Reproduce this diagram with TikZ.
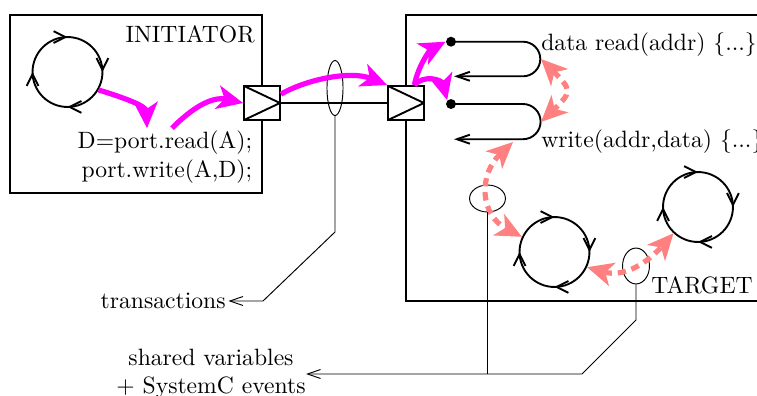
\documentclass[tikz,border=0pt]{standalone}
\usepackage{xcolor}
\usepackage{tikz}
\usetikzlibrary{arrows.meta, shapes.geometric, decorations.markings}

\definecolor{salmon}{RGB}{255,128,128}
\definecolor{fucsia}{RGB}{255,0,255}

\tikzset{
  bucle/.style={circle, draw, thick, minimum size=29.6pt, inner sep=0pt,
    postaction={decorate, decoration={markings,
      mark=between positions 0 and 0.8 step 0.25 with {\arrowreversed{Straight Barb[length=5pt,width=5pt]}}}}},
  puerto/.style={draw, thick, fill=white, minimum width=15.2pt, minimum height=14.4pt, inner sep=0pt,
    path picture={\draw[thick] (path picture bounding box.north west) -- (path picture bounding box.east) -- (path picture bounding box.south west);}},
  elipse/.style={ellipse, draw, inner sep=0pt},
  punto/.style={circle, fill, inner sep=0pt, minimum size=4.2pt},
  flechaM/.style={fucsia, line width=2.2pt, -{Stealth[length=11pt,width=10pt,inset=3pt]}},
  flechaS/.style={salmon, line width=2.2pt, dash pattern=on 3.5pt off 2.5pt,
    {Stealth[length=11pt,width=10pt,inset=3pt]}-{Stealth[length=11pt,width=10pt,inset=3pt]}},
  guia/.style={-{Straight Barb[length=5.5pt,width=3.8pt]}}
}

\begin{document}
\begin{tikzpicture}[x=0.4233pt, y=-0.4233pt]
\useasboundingbox (0,0) rectangle (757,396);

% Cajas INITIATOR y TARGET
\draw[thick] (10,15) rectangle (262,193);
\draw[thick] (406,15) rectangle (770,301);
\node (lblIni) at (263,34)[left] {INITIATOR};
\node (lblTgt) at (761,285)[left] {TARGET};

% Procesos
\node[bucle] (cicloI) at (67.5,72) {};
\node[bucle] (cicloA) at (554.5,252) {};
\node[bucle] (cicloB) at (698,207) {};

% Codigo del iniciador
\node[align=right, inner sep=1pt] (codigo) at (255,157)[left] {D=port.read(A);\\port.write(A,D);};

% Puertos y canal
\node[puerto] (p1) at (262,103) {};
\node[puerto] (p2) at (406,103) {};
\draw[thick] (p1.east) -- (p2.west);
\node[elipse, minimum width=6.8pt, minimum height=23.3pt] (e1) at (335,88) {};

% Metodos del target
\node[punto] (d1) at (451,41.7) {};
\node[punto] (d2) at (451,104) {};
\draw[thick, guia] (d1.center) -- (523,41.7) arc (-90:90:17.3) -- (454,76.3);
\draw[thick, guia] (d2.center) -- (523,104) arc (-90:90:17.6) -- (454,139.2);
\node (lblRead) at (533,45)[right] {data read(addr) \{...\}};
\node (lblWrite) at (533,142)[right] {write(addr,data) \{...\}};

% Variables compartidas
\node[elipse, minimum width=15.2pt, minimum height=11.4pt] (e2) at (487.5,198.5) {};
\node[elipse, minimum width=11.4pt, minimum height=15.2pt] (e3) at (636,266) {};

% Flechas magenta
\draw[flechaM] (cicloI.-30) .. controls (125,98) and (146,106) .. (147,0 |- codigo.north);
\draw[flechaM] (172,0 |- codigo.north) .. controls (192,108) and (212,96) .. (p1.west);
\draw[flechaM] (p1.25) .. controls (305,80) and (350,70) .. (p2.north west);
\draw[flechaM] (p2.65) .. controls (418,66) and (430,50) .. (d1.west);
\draw[flechaM] (p2.65) .. controls (424,74) and (442,80) .. (d2.north west);

% Flechas salmon
\coordinate (rdR) at (541,59);
\coordinate (wrR) at (541,122);
\coordinate (wrB) at (513,142);
\draw[flechaS] (rdR) .. controls (572,90) and (572,92) .. (wrR);
\draw[flechaS] (wrB) .. controls (478,175) and (480,215) .. (cicloA.155);
\draw[flechaS] (cicloA.-25) .. controls (625,278) and (648,262) .. (cicloB.-133);

% Guias y etiquetas
\node[inner sep=1pt] (lblTrans) at (228.5,301)[left] {transactions};
\draw[guia] (e1.south) -- (335,232) -- (263,301) -- (lblTrans.east);
\node[align=center, inner sep=0pt] (lblComp) at (211,374) {shared variables\\+ SystemC events};
\coordinate (union) at (487.5,374);
\draw (e2.south) -- (union);
\draw[guia] (e3.south) -- (636,320) -- (582,374) -- (lblComp.east);

\end{tikzpicture}
\end{document}
